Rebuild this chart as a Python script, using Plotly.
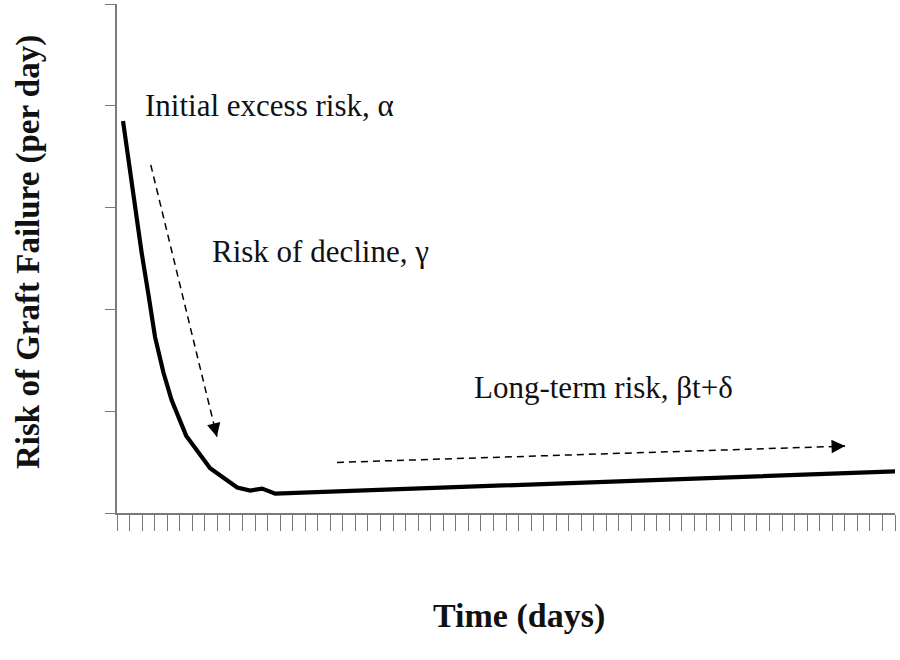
import plotly.graph_objects as go

# ---- data (arbitrary units) ----
time_days = [0.48, 1.2, 1.96, 2.5, 3.03, 3.7, 4.35, 5.51, 7.42, 9.58, 10.61, 11.57, 12.61, 62.2]
risk = [3.85, 3.2, 2.56, 2.15, 1.73, 1.38, 1.11, 0.76, 0.44, 0.25, 0.22, 0.24, 0.19, 0.41]

x_tick_vals = list(range(0, 63))
y_tick_vals = [0, 1, 2, 3, 4, 5]

# dashed arrows: [start, tip] in data units
decline_arrow_x = [2.69, 7.96]
decline_arrow_y = [3.42, 0.75]
longterm_arrow_x = [17.53, 58.02]
longterm_arrow_y = [0.497, 0.657]

labels = ["Initial excess risk, \u03b1", "Risk of decline, \u03b3", "Long-term risk, \u03b2t+\u03b4"]
label_x = [2.07, 7.41, 28.29]
label_y = [4.0, 2.57, 1.23]

X_RANGE = [0, 62]
Y_RANGE = [0, 5]
L, R, T, B = 117, 5, 4, 147
W, H = 900, 660
px_per_x = (W - L - R) / (X_RANGE[1] - X_RANGE[0])
px_per_y = (H - T - B) / (Y_RANGE[1] - Y_RANGE[0])

fig = go.Figure()
fig.add_trace(go.Scatter(x=time_days, y=risk, mode="lines",
                         line=dict(color="black", width=4.2), showlegend=False,
                         hoverinfo="skip"))

annotations = []
for ax_, ay_ in [(decline_arrow_x, decline_arrow_y), (longterm_arrow_x, longterm_arrow_y)]:
    fig.add_trace(go.Scatter(x=ax_, y=ay_, mode="lines",
                             line=dict(color="black", width=1.5, dash="7px,5px"),
                             showlegend=False, hoverinfo="skip"))
    dx = (ax_[1] - ax_[0]) * px_per_x
    dy = -(ay_[1] - ay_[0]) * px_per_y
    ln = (dx ** 2 + dy ** 2) ** 0.5
    annotations.append(dict(x=ax_[1], y=ay_[1], xref="x", yref="y", text="",
                            showarrow=True, arrowhead=2, arrowsize=1.8, arrowwidth=1.5,
                            arrowcolor="black", ax=-dx / ln * 12, ay=-dy / ln * 12,
                            standoff=0, startstandoff=0))

font_txt = dict(family="Liberation Serif, DejaVu Serif, serif", size=31, color="#111111")
for t, x, y in zip(labels, label_x, label_y):
    annotations.append(dict(x=x, y=y, xref="x", yref="y", text=t, showarrow=False,
                            xanchor="left", yanchor="middle", font=font_txt))

font_title = dict(family="Liberation Serif, DejaVu Serif, serif", size=33, color="#111111")
annotations.append(dict(x=(28 - L) / (W - L - R), y=(H - B - 252) / (H - T - B),
                        xref="paper", yref="paper", text="<b>Risk of Graft Failure (per day)</b>",
                        textangle=-90, showarrow=False, xanchor="center", yanchor="middle",
                        font=font_title))
annotations.append(dict(x=(519 - L) / (W - L - R), y=(H - B - 616) / (H - T - B),
                        xref="paper", yref="paper", text="<b>Time (days)</b>",
                        showarrow=False, xanchor="center", yanchor="middle",
                        font=dict(font_title, size=34)))

fig.update_layout(
    width=W, height=H,
    margin=dict(l=L, r=R, t=T, b=B),
    paper_bgcolor="white", plot_bgcolor="white",
    annotations=annotations,
    xaxis=dict(range=X_RANGE, showgrid=False, zeroline=False, showline=True,
               linecolor="#7a7a7a", linewidth=1.5, tickmode="array", tickvals=x_tick_vals,
               ticks="outside", ticklen=16, tickwidth=1, tickcolor="#7a7a7a",
               showticklabels=False),
    yaxis=dict(range=Y_RANGE, showgrid=False, zeroline=False, showline=True,
               linecolor="#7a7a7a", linewidth=1.5, tickmode="array", tickvals=y_tick_vals,
               ticks="outside", ticklen=10, tickwidth=1, tickcolor="#7a7a7a",
               showticklabels=False),
)

fig.write_html("out.html", config={"displayModeBar": False},
               post_script="document.body.style.margin='0';document.body.style.padding='0';")
